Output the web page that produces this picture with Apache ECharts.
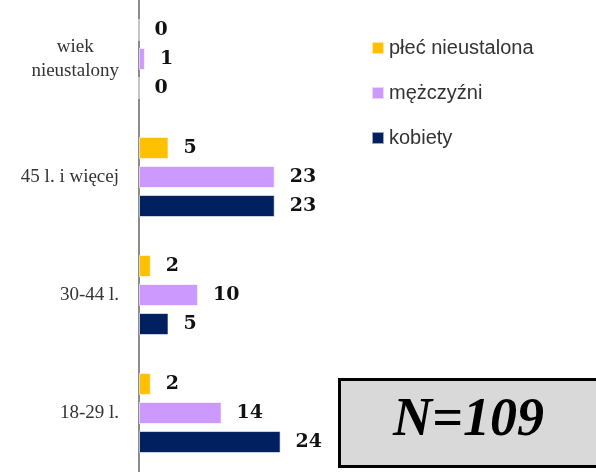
<!doctype html>
<html lang="pl">
<head>
    <meta charset="UTF-8">
    <title>Wiek i płeć</title>
    <style>
        *{
            margin:0;
            padding:0;
        }
        html,body {
            height:100%;
            background:#fff;
        }
        #main{
            width:596px;
            height:472px;
        }
    </style>
</head>
<body>

<div id="main"></div>
<script src="https://cdn.jsdelivr.net/npm/echarts@6/dist/echarts.min.js"></script>
<script>

    // categories listed from the bottom of the axis upward
    var categories = ['18-29 l.', '30-44 l.', '45 l. i więcej', 'wiek\nnieustalony'];

    var kobiety = [24, 5, 23, 0];
    var mezczyzni = [14, 10, 23, 1];
    var plecNieustalona = [2, 2, 5, 0];

    var legendNames = ['płeć nieustalona', 'mężczyźni', 'kobiety'];
    var totalLabel = 'N=109';

    var myChart = echarts.init(document.getElementById('main'));

    var valueLabel = {
        show: true,
        position: 'right',
        distance: 15,
        color: '#111',
        fontFamily: 'DejaVu Serif',
        fontWeight: 'bold',
        fontSize: 19
    };

    function makeSeries(name, data, color) {
        return {
            name: name,
            type: 'bar',
            data: data,
            barWidth: 22,
            barGap: '32%',
            itemStyle: {
                color: color,
                borderColor: 'rgba(255,255,255,0.6)',
                borderWidth: 1
            },
            label: valueLabel
        };
    }

    myChart.setOption({
        animation: false,
        legend: {
            data: legendNames,
            orient: 'vertical',
            left: 366,
            top: 33,
            itemWidth: 12,
            itemHeight: 12,
            itemGap: 25,
            icon: 'rect',
            textStyle: {
                fontFamily: 'Liberation Sans',
                fontSize: 20,
                color: '#333'
            }
        },
        grid: {
            left: 139,
            top: -2,
            width: 177,
            height: 480,
            containLabel: false
        },
        xAxis: {
            type: 'value',
            min: 0,
            max: 30,
            show: false
        },
        yAxis: {
            type: 'category',
            data: categories,
            axisLine: {
                show: true,
                lineStyle: { color: '#8c8c8c', width: 2 }
            },
            axisTick: { show: false },
            axisLabel: {
                margin: 20,
                color: '#333',
                fontFamily: 'Liberation Serif',
                fontSize: 19,
                formatter: function (value) {
                    if (value.indexOf('\n') >= 0) {
                        return value.split('\n').map(function (s) {
                            return '{c|' + s + '}';
                        }).join('\n');
                    }
                    return value;
                },
                rich: {
                    c: {
                        align: 'center',
                        fontFamily: 'Liberation Serif',
                        fontSize: 19,
                        color: '#333',
                        lineHeight: 24
                    }
                }
            }
        },
        series: [
            makeSeries('płeć nieustalona', plecNieustalona, '#FFC000'),
            makeSeries('mężczyźni', mezczyzni, '#CC99FF'),
            makeSeries('kobiety', kobiety, '#002060')
        ],
        graphic: [{
            type: 'group',
            left: 338,
            top: 378,
            children: [{
                type: 'rect',
                shape: { x: 0, y: 0, width: 270, height: 87 },
                style: { fill: '#D9D9D9', stroke: '#000', lineWidth: 3 }
            }, {
                type: 'text',
                x: 129,
                y: 42,
                style: {
                    text: totalLabel,
                    fill: '#000',
                    font: 'italic bold 54px "Liberation Serif"',
                    align: 'center',
                    verticalAlign: 'middle'
                }
            }]
        }]
    });

</script>
</body>
</html>
